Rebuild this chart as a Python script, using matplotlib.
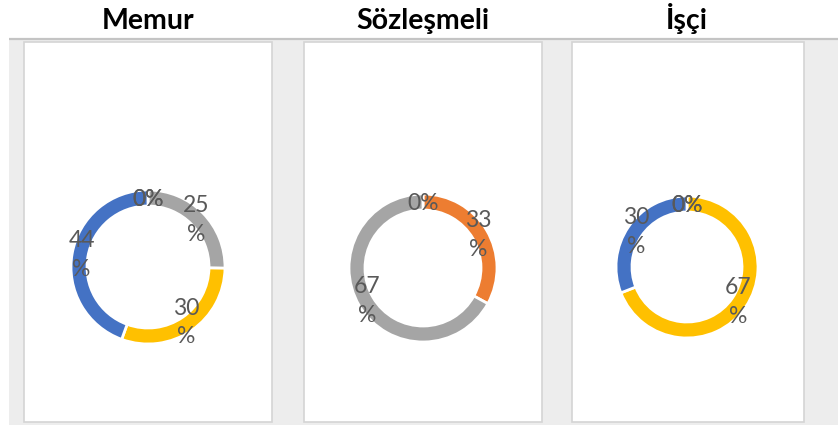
import matplotlib

matplotlib.use("Agg")
import matplotlib.pyplot as plt
import numpy as np
from matplotlib.patches import Rectangle

W, H = 838, 425

BLUE = "#4472C4"
ORANGE = "#ED7D31"
GRAY = "#A5A5A5"
YELLOW = "#FFC000"

titles = ["Memur", "Sözleşmeli", "İşçi"]

# slices clockwise from 12 o'clock
memur_pct = [0, 0, 25, 30, 44]
memur_colors = [ORANGE, GRAY, GRAY, YELLOW, BLUE]
sozlesmeli_pct = [0, 33, 67]
sozlesmeli_colors = [BLUE, ORANGE, GRAY]
isci_pct = [0, 0, 67, 30]
isci_colors = [ORANGE, GRAY, YELLOW, BLUE]

series = [
    (memur_pct, memur_colors),
    (sozlesmeli_pct, sozlesmeli_colors),
    (isci_pct, isci_colors),
]

# layout in pixels (x, y from top-left)
panels = [(24, 272), (304, 542), (572, 804)]
centers = [(148, 267), (423, 268), (687, 267)]
radii = [77, 74, 71]
ring = 16

fig = plt.figure(figsize=(W / 100, H / 100), dpi=100)
fig.patch.set_facecolor("white")

bg = fig.add_axes([0, 0, 1, 1])
bg.set_xlim(0, W)
bg.set_ylim(H, 0)
bg.set_axis_off()
bg.add_patch(Rectangle((9, 39), W - 9, H - 39, facecolor="#EDEDED", edgecolor="none"))
bg.plot([9, W], [39, 39], color="#C4C4C4", lw=1.6, solid_capstyle="butt")
for x0, x1 in panels:
    bg.add_patch(Rectangle((x0, 42), x1 - x0, 380, facecolor="white",
                           edgecolor="#D4D4D4", lw=1.2))

for title, (cx, cy) in zip(titles, centers):
    bg.text(cx, 29, title, ha="center", va="baseline", fontsize=20.5,
            fontweight="bold", family=["Lato", "DejaVu Sans"], color="black")

for (pct, colors), (cx, cy), R in zip(series, centers, radii):
    ax = fig.add_axes([(cx - R) / W, (H - cy - R) / H, 2 * R / W, 2 * R / H])
    wedges, _ = ax.pie(
        pct,
        colors=colors,
        startangle=90,
        counterclock=False,
        radius=1,
        wedgeprops=dict(width=ring / R, edgecolor="white", linewidth=2),
    )
    ax.set_xlim(-1, 1)
    ax.set_ylim(-1, 1)
    ax.set_axis_off()
    r_lab = 1 - ring / R / 2 - 0.02
    for w, v in zip(wedges, pct):
        ang = np.deg2rad((w.theta1 + w.theta2) / 2)
        label = f"{v}%" if v == 0 else f"{v}\n%"
        ax.text(r_lab * np.cos(ang), r_lab * np.sin(ang), label,
                ha="center", va="center", fontsize=16.5, linespacing=1.45,
                family=["Lato", "DejaVu Sans"], color="#595959", clip_on=False)

fig.savefig("out.png", dpi=100, facecolor="white")
